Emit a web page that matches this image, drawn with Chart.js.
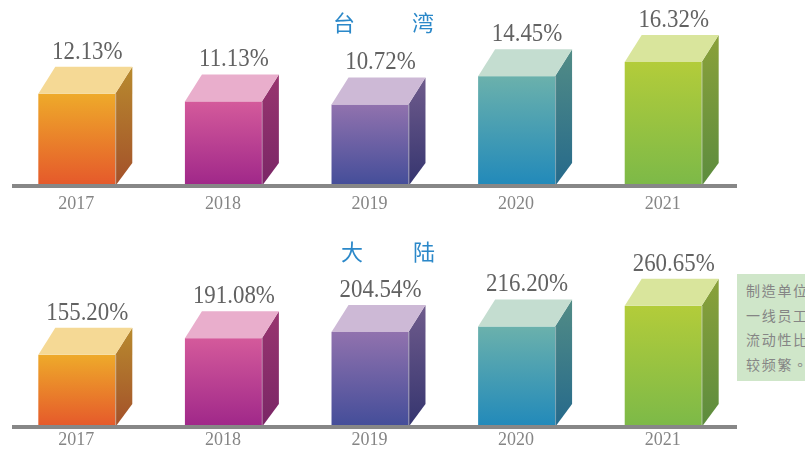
<!DOCTYPE html>
<html>
<head>
<meta charset="utf-8">
<script src="https://cdn.jsdelivr.net/npm/chart.js@4/dist/chart.umd.min.js"></script>
<style>
  html, body { margin: 0; padding: 0; background: #fff; overflow: hidden; width: 805px; height: 449px; }
  #wrap { position: relative; width: 805px; height: 449px; overflow: hidden; }
  #twChart { position: absolute; left: 0; top: 0; }
  #cnChart { position: absolute; left: 0; top: 220px; }
  #note {
    position: absolute; left: 737px; top: 274px; width: 90px; height: 107px;
    background: #cfe6c9; color: #858585; box-sizing: border-box;
    padding: 4px 0 0 9px; font: 14px "Noto Sans CJK TC"; line-height: 24.5px;
    letter-spacing: 1.7px; white-space: nowrap;
  }
</style>
</head>
<body>
<div id="wrap">
  <canvas id="twChart" width="805" height="215"></canvas>
  <canvas id="cnChart" width="805" height="229"></canvas>
  <div id="note" lang="zh-TW"></div>
</div>
<script>
// Turnover rates by year
const years = ['2017', '2018', '2019', '2020', '2021'];
const taiwanRates = [12.13, 11.13, 10.72, 14.45, 16.32];
const mainlandRates = [155.20, 191.08, 204.54, 216.20, 260.65];
const taiwanTitle = ['台', '湾'];
const mainlandTitle = ['大', '陆'];
const noteLines = ['制造单位', '一线员工', '流动性比', '较频繁。'];

// Face colours of each box: front gradient, side gradient, top face
const boxColors = [
  { front: ['#eeaa2a', '#e5582b'], side: ['#b88a2e', '#a3502a'], top: '#f5d995' },
  { front: ['#d45a9b', '#9f2789'], side: ['#98356f', '#7a2666'], top: '#e9aecc' },
  { front: ['#9172ae', '#434d99'], side: ['#6f5b8c', '#35356f'], top: '#cdb9d6' },
  { front: ['#6bb1ac', '#2189ba'], side: ['#528c86', '#25698b'], top: '#c4ddd0' },
  { front: ['#b3cc3a', '#7cb948'], side: ['#8aa13a', '#5c8c3e'], top: '#d9e59c' }
];

document.getElementById('note').innerHTML = noteLines.join('<br>');

const DX = 17, DY_TOP = 27, DY_BOTTOM = 23;

const bar3d = {
  id: 'bar3d',
  afterDatasetsDraw(chart, args, opts) {
    const ctx = chart.ctx;
    const area = chart.chartArea;
    const meta = chart.getDatasetMeta(0);
    const values = chart.data.datasets[0].data;
    ctx.save();
    meta.data.forEach((el, i) => {
      const c = boxColors[i];
      const w = el.width;
      const left = el.x - w / 2 - DX / 2;
      const right = left + w;
      const top = el.y;
      const bottom = el.base;

      // front face
      let g = ctx.createLinearGradient(0, top, 0, bottom);
      g.addColorStop(0, c.front[0]);
      g.addColorStop(1, c.front[1]);
      ctx.fillStyle = g;
      ctx.fillRect(left, top, w, bottom - top);

      // side face
      g = ctx.createLinearGradient(0, top - DY_TOP, 0, bottom);
      g.addColorStop(0, c.side[0]);
      g.addColorStop(1, c.side[1]);
      ctx.fillStyle = g;
      ctx.beginPath();
      ctx.moveTo(right, top);
      ctx.lineTo(right + DX, top - DY_TOP);
      ctx.lineTo(right + DX, bottom - DY_BOTTOM);
      ctx.lineTo(right, bottom);
      ctx.closePath();
      ctx.fill();

      // top face
      ctx.fillStyle = c.top;
      ctx.beginPath();
      ctx.moveTo(left, top);
      ctx.lineTo(left + DX, top - DY_TOP);
      ctx.lineTo(right + DX, top - DY_TOP);
      ctx.lineTo(right, top);
      ctx.closePath();
      ctx.fill();

      // light edge between front and side
      ctx.strokeStyle = 'rgba(255,255,255,0.35)';
      ctx.lineWidth = 1;
      ctx.beginPath();
      ctx.moveTo(right + 0.5, top);
      ctx.lineTo(right + 0.5, bottom);
      ctx.stroke();

      // value label
      const cx = el.x + 2;
      ctx.save();
      ctx.translate(cx, top - DY_TOP - 8);
      ctx.scale(0.88, 1);
      ctx.fillStyle = '#626262';
      ctx.font = '26px "Liberation Serif"';
      ctx.textAlign = 'center';
      ctx.textBaseline = 'alphabetic';
      ctx.fillText(values[i].toFixed(2) + '%', 0, 0);
      ctx.restore();
    });

    // base line
    ctx.fillStyle = '#878787';
    ctx.fillRect(area.left, area.bottom - 2, area.right - 8 - area.left, 4);

    // panel title
    ctx.fillStyle = '#2b88c9';
    ctx.font = '22px "Noto Sans CJK TC"';
    ctx.textAlign = 'center';
    ctx.textBaseline = 'middle';
    opts.title.forEach((ch, k) => {
      ctx.fillText(ch, opts.titleX[k], opts.titleY);
    });
    ctx.restore();
  }
};

function makeChart(id, values, yMax, padTop, axisHeight, tickPad, title, titleX, titleY) {
  return new Chart(document.getElementById(id), {
    type: 'bar',
    data: {
      labels: years,
      datasets: [{
        data: values,
        backgroundColor: 'rgba(0,0,0,0)',
        borderWidth: 0,
        barPercentage: 0.525,
        categoryPercentage: 1
      }]
    },
    options: {
      responsive: false,
      animation: false,
      events: [],
      layout: { padding: { left: 12, right: 60, top: padTop, bottom: 0 } },
      plugins: {
        legend: { display: false },
        tooltip: { enabled: false },
        bar3d: { title: title, titleX: titleX, titleY: titleY }
      },
      scales: {
        x: {
          grid: { display: false, drawTicks: false },
          border: { display: false },
          ticks: {
            color: '#858585',
            font: { family: '"Liberation Serif"', size: 18, lineHeight: 1.1 },
            padding: tickPad,
            labelOffset: -9,
            maxRotation: 0
          },
          afterFit(scale) { scale.height = axisHeight; }
        },
        y: { display: false, min: 0, max: yMax }
      }
    },
    plugins: [bar3d]
  });
}

makeChart('twChart', taiwanRates, 24.2, 2, 29, 8, taiwanTitle, [344, 423], 23);
makeChart('cnChart', mainlandRates, 400, 21, 22, 3, mainlandTitle, [352, 424], 32);
</script>
</body>
</html>
